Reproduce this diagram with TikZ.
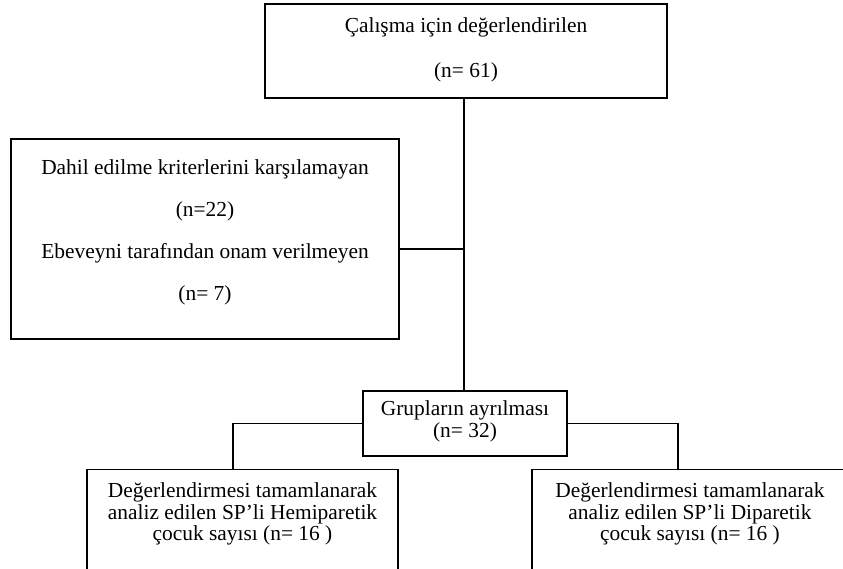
\documentclass[tikz,border=0pt]{standalone}
\usepackage{fontspec}
\setmainfont{Liberation Serif}
\usetikzlibrary{positioning}
\tikzset{
  kutu/.style={draw, rectangle, line width=1.3pt, inner sep=0pt},
  yazi/.style={align=center, inner sep=0pt},
}
\begin{document}
\begin{tikzpicture}[x=1pt,y=-1pt,line width=1.3pt]
			\def\fs{21.4}
			\useasboundingbox (0,0) rectangle (843,569);
			\clip (0,0) rectangle (843,569);
			% ust kutu
			\node[kutu, minimum width=402, minimum height=94] (ust) at (466,51) {};
			\node[yazi, font=\fontsize{\fs}{45}\selectfont] (usttxt) at (466,50) {Çalışma için değerlendirilen\\(n= 61)};
			% dislanan
			\node[kutu, minimum width=388, minimum height=200] (dis) at (205,239) {};
			\node[yazi, font=\fontsize{\fs}{42}\selectfont] (distxt) at (205,232.5) {Dahil edilme kriterlerini karşılamayan\\(n=22)\\Ebeveyni tarafından onam verilmeyen\\(n= 7)};
			% gruplar
			\node[kutu, minimum width=204, minimum height=65] (grp) at (465,423.5) {};
			\node[yazi, font=\fontsize{\fs}{22}\selectfont] (grptxt) at (465,421) {Grupların ayrılması\\(n= 32)};
			% alt kutular
			\node[kutu, anchor=north, minimum width=311, minimum height=140] (hemi) at (242.5,469) {};
			\node[kutu, anchor=north, minimum width=316, minimum height=140] (dipa) at (690,469) {};
			\node[yazi, anchor=north, font=\fontsize{\fs}{21.5}\selectfont] (hemitxt) at ([yshift=-13pt]hemi.north) {Değerlendirmesi tamamlanarak\\analiz edilen SP’li Hemiparetik\\çocuk sayısı (n= 16 )};
			\node[yazi, anchor=north, font=\fontsize{\fs}{21.5}\selectfont] (dipatxt) at ([yshift=-13pt]dipa.north) {Değerlendirmesi tamamlanarak\\analiz edilen SP’li Diparetik\\çocuk sayısı (n= 16 )};
			% baglantilar
			\coordinate (solin) at (233,469);
			\coordinate (sagin) at (678,469);
			\draw (ust.south -| 464,0) -- (grp.north -| 464,0);
			\draw ([yshift=-10pt]dis.east) -- ([yshift=-10pt]dis.east -| 464,0);
			\draw (grp.west) -| (solin);
			\draw (grp.east) -| (sagin);
\end{tikzpicture}
\end{document}
